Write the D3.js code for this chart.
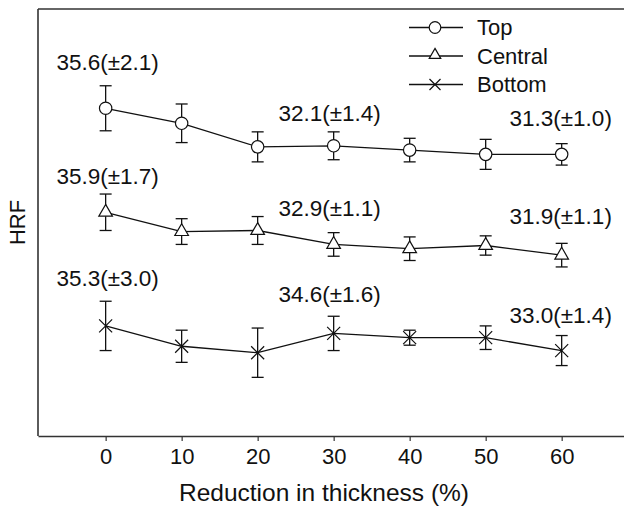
<!DOCTYPE html>
<html>
<head>
<meta charset="utf-8">
<script src="https://cdn.jsdelivr.net/npm/d3@7"></script>
<style>
  html, body { margin: 0; padding: 0; background: #fff; }
  svg { display: block; }
  text { font-family: "Liberation Sans", Arial, sans-serif; fill: #111; }
</style>
</head>
<body>
<svg id="chart" width="624" height="506"></svg>
<script>
// ---- data ----
const categories = [0, 10, 20, 30, 40, 50, 60];
const seriesNames = ["Top", "Central", "Bottom"];
const topMean     = [35.6, 34.2, 32.0, 32.1, 31.7, 31.3, 31.3];
const topErr      = [2.1, 1.8, 1.4, 1.3, 1.1, 1.4, 1.0];
const centralMean = [35.9, 34.1, 34.2, 32.9, 32.5, 32.8, 31.9];
const centralErr  = [1.7, 1.2, 1.3, 1.1, 1.1, 0.9, 1.1];
const bottomMean  = [35.3, 33.4, 32.8, 34.6, 34.2, 34.2, 33.0];
const bottomErr   = [2.3, 1.5, 2.3, 1.6, 0.7, 1.1, 1.4];
// vertical display shift applied to each series (series are stacked apart)
const displayShift = [0, 10, 20];
// annotated points and their labels
const labelIndex = [0, 3, 6];
const topLabels     = ["35.6(±2.1)", "32.1(±1.4)", "31.3(±1.0)"];
const centralLabels = ["35.9(±1.7)", "32.9(±1.1)", "31.9(±1.1)"];
const bottomLabels  = ["35.3(±3.0)", "34.6(±1.6)", "33.0(±1.4)"];
const xTickValues = [0, 10, 20, 30, 40, 50, 60];
const xTitle = "Reduction in thickness (%)";
const yTitle = "HRF";

// ---- layout ----
const W = 624, H = 506;
const L = 38, T = 9, B = 436, R = 624;
const labelGap = [[16, 11, 18], [10, 17, 19], [15, 14, 13]];
const labelDx = [2, -4, -1];
const ink = "#111";

const series = [
  { name: seriesNames[0], mean: topMean, err: topErr, labels: topLabels, shape: "circle" },
  { name: seriesNames[1], mean: centralMean, err: centralErr, labels: centralLabels, shape: "triangle" },
  { name: seriesNames[2], mean: bottomMean, err: bottomErr, labels: bottomLabels, shape: "cross" }
];

const svg = d3.select("#chart");
const x = d3.scaleLinear().domain([-8.9, 68.2]).range([L, R]);
const y = d3.scaleLinear().domain([5.03, 44.86]).range([B, T]);

// frame
svg.append("line").attr("x1", L).attr("x2", R).attr("y1", T).attr("y2", T)
  .attr("stroke", "#333").attr("stroke-width", 1.6);
svg.append("line").attr("x1", L).attr("x2", L).attr("y1", T).attr("y2", B)
  .attr("stroke", "#333").attr("stroke-width", 1.6);

// x axis
const xAxis = d3.axisBottom(x).tickValues(xTickValues).tickSize(5).tickPadding(6).tickSizeOuter(0);
const gx = svg.append("g").attr("transform", `translate(0,${B})`).call(xAxis);
gx.select(".domain").attr("stroke", "#333").attr("stroke-width", 1.6);
gx.selectAll(".tick line").attr("stroke", "#333").attr("stroke-width", 1.2);
gx.selectAll(".tick text").attr("font-size", 22).attr("fill", ink)
  .attr("font-family", "'Liberation Sans', Arial, sans-serif").attr("dy", "0.78em");

// titles
svg.append("text").attr("x", 324).attr("y", 501).attr("text-anchor", "middle")
  .attr("font-size", 24.5).text(xTitle);
svg.append("text").attr("transform", `translate(25,${(T + B) / 2}) rotate(-90)`)
  .attr("text-anchor", "middle").attr("font-size", 22).text(yTitle);

function drawMarker(g, shape, cx, cy, s) {
  if (shape === "circle") {
    g.append("circle").attr("cx", cx).attr("cy", cy).attr("r", s)
      .attr("fill", "#fff").attr("stroke", ink).attr("stroke-width", 1.2);
  } else if (shape === "triangle") {
    const sym = d3.symbol().type(d3.symbolTriangle).size(s * s * 1.9);
    g.append("path").attr("d", sym()).attr("transform", `translate(${cx},${cy})`)
      .attr("fill", "#fff").attr("stroke", ink).attr("stroke-width", 1.2);
  } else {
    g.append("path")
      .attr("d", `M${cx - s},${cy - s}L${cx + s},${cy + s}M${cx - s},${cy + s}L${cx + s},${cy - s}`)
      .attr("stroke", ink).attr("stroke-width", 1.2).attr("fill", "none");
  }
}

const line = d3.line();
series.forEach((s, si) => {
  const g = svg.append("g");
  const pts = categories.map((c, i) => [x(c), y(s.mean[i] - displayShift[si])]);
  g.append("path").attr("d", line(pts)).attr("fill", "none")
    .attr("stroke", ink).attr("stroke-width", 1.3);
  // error bars
  categories.forEach((c, i) => {
    const cx = x(c);
    const y1 = y(s.mean[i] + s.err[i] - displayShift[si]);
    const y2 = y(s.mean[i] - s.err[i] - displayShift[si]);
    g.append("line").attr("x1", cx).attr("x2", cx).attr("y1", y1).attr("y2", y2)
      .attr("stroke", ink).attr("stroke-width", 1.3);
    [y1, y2].forEach(yy => g.append("line").attr("x1", cx - 6).attr("x2", cx + 6)
      .attr("y1", yy).attr("y2", yy).attr("stroke", ink).attr("stroke-width", 1.3));
  });
  // markers
  categories.forEach((c, i) => {
    drawMarker(g, s.shape, x(c), y(s.mean[i] - displayShift[si]), s.shape === "circle" ? 6.2 : 6.5);
  });
  // labels
  labelIndex.forEach((idx, k) => {
    const top = y(s.mean[idx] + s.err[idx] - displayShift[si]);
    g.append("text").attr("x", x(categories[idx]) + labelDx[k]).attr("y", top - labelGap[si][k])
      .attr("text-anchor", "middle").attr("font-size", 22.5).text(s.labels[k]);
  });
});

// legend
const legRows = [27.5, 56, 84.5];
series.forEach((s, si) => {
  const g = svg.append("g");
  const ly = legRows[si];
  g.append("line").attr("x1", 409).attr("x2", 463).attr("y1", ly).attr("y2", ly)
    .attr("stroke", ink).attr("stroke-width", 1.3);
  drawMarker(g, s.shape, 435, s.shape === "triangle" ? ly - 1 : ly, s.shape === "circle" ? 5.8 : 5.5);
  g.append("text").attr("x", 477).attr("y", ly + 7.8).attr("font-size", 22).text(s.name);
});
</script>
</body>
</html>
